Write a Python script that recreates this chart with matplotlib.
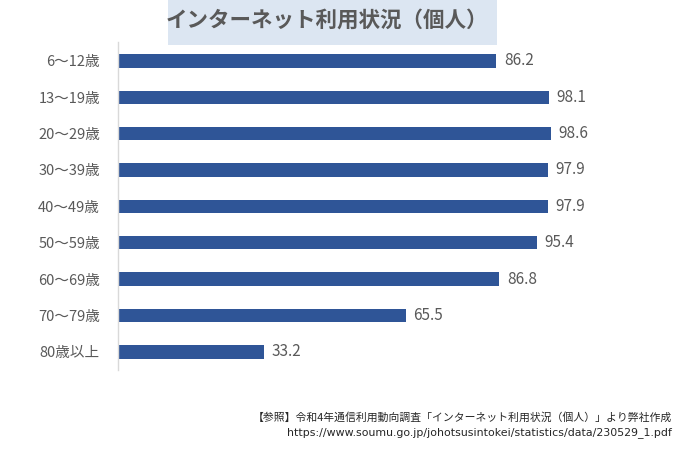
import matplotlib
matplotlib.use("Agg")
import matplotlib.pyplot as plt
from matplotlib.patches import Rectangle

plt.rcParams["font.family"] = ["Noto Sans CJK JP", "DejaVu Sans"]

# ---------------------------------------------------------------------------
# Data
# ---------------------------------------------------------------------------
AGE_GROUPS = ["6～12歳", "13～19歳", "20～29歳", "30～39歳", "40～49歳",
              "50～59歳", "60～69歳", "70～79歳", "80歳以上"]
USAGE_RATE = [86.2, 98.1, 98.6, 97.9, 97.9, 95.4, 86.8, 65.5, 33.2]

TITLE = "インターネット利用状況（個人）"
SOURCE_1 = "【参照】令和4年通信利用動向調査「インターネット利用状況（個人）」より弊社作成"
SOURCE_2 = "https://www.soumu.go.jp/johotsusintokei/statistics/data/230529_1.pdf"

BAR_COLOR = "#2F5597"
TEXT_COLOR = "#595959"

# ---------------------------------------------------------------------------
# Plot
# ---------------------------------------------------------------------------
W, H = 680, 454
fig = plt.figure(figsize=(W / 100, H / 100), dpi=100)
ax = fig.add_axes([118 / W, 1 - 370 / H, 483 / W, 328 / H])

ypos = range(len(AGE_GROUPS))
ax.barh(ypos, USAGE_RATE, height=0.37, color=BAR_COLOR)

for y, v in zip(ypos, USAGE_RATE):
    ax.text(v + 1.8, y, f"{v:.1f}", ha="left", va="center",
            fontsize=11, color=TEXT_COLOR)

ax.set_xlim(0, 110)
ax.set_ylim(8.5, -0.52)
ax.set_yticks(list(ypos))
ax.set_yticklabels(AGE_GROUPS, fontsize=10.5, color=TEXT_COLOR)
ax.tick_params(axis="y", length=0, pad=13)
ax.set_xticks([])

for side in ("top", "right", "bottom"):
    ax.spines[side].set_visible(False)
ax.spines["left"].set_color("#d9d9d9")
ax.spines["left"].set_linewidth(1.0)

# title box
fig.patches.append(Rectangle((168 / W, 1 - 45 / H), 329 / W, 45 / H,
                             transform=fig.transFigure, facecolor="#dce6f2",
                             edgecolor="none", zorder=0))
fig.text(327 / W, 1 - 20 / H, TITLE, ha="center", va="center",
         fontsize=15.5, fontweight="bold", color=TEXT_COLOR)

# source notes
fig.text(672 / W, 1 - 417 / H, SOURCE_1, ha="right", va="center",
         fontsize=7.8, color="#262626")
fig.text(672 / W, 1 - 433 / H, SOURCE_2, ha="right", va="center",
         fontsize=7.9, color="#262626", family=["DejaVu Sans"])

fig.savefig("out.png", dpi=100)
